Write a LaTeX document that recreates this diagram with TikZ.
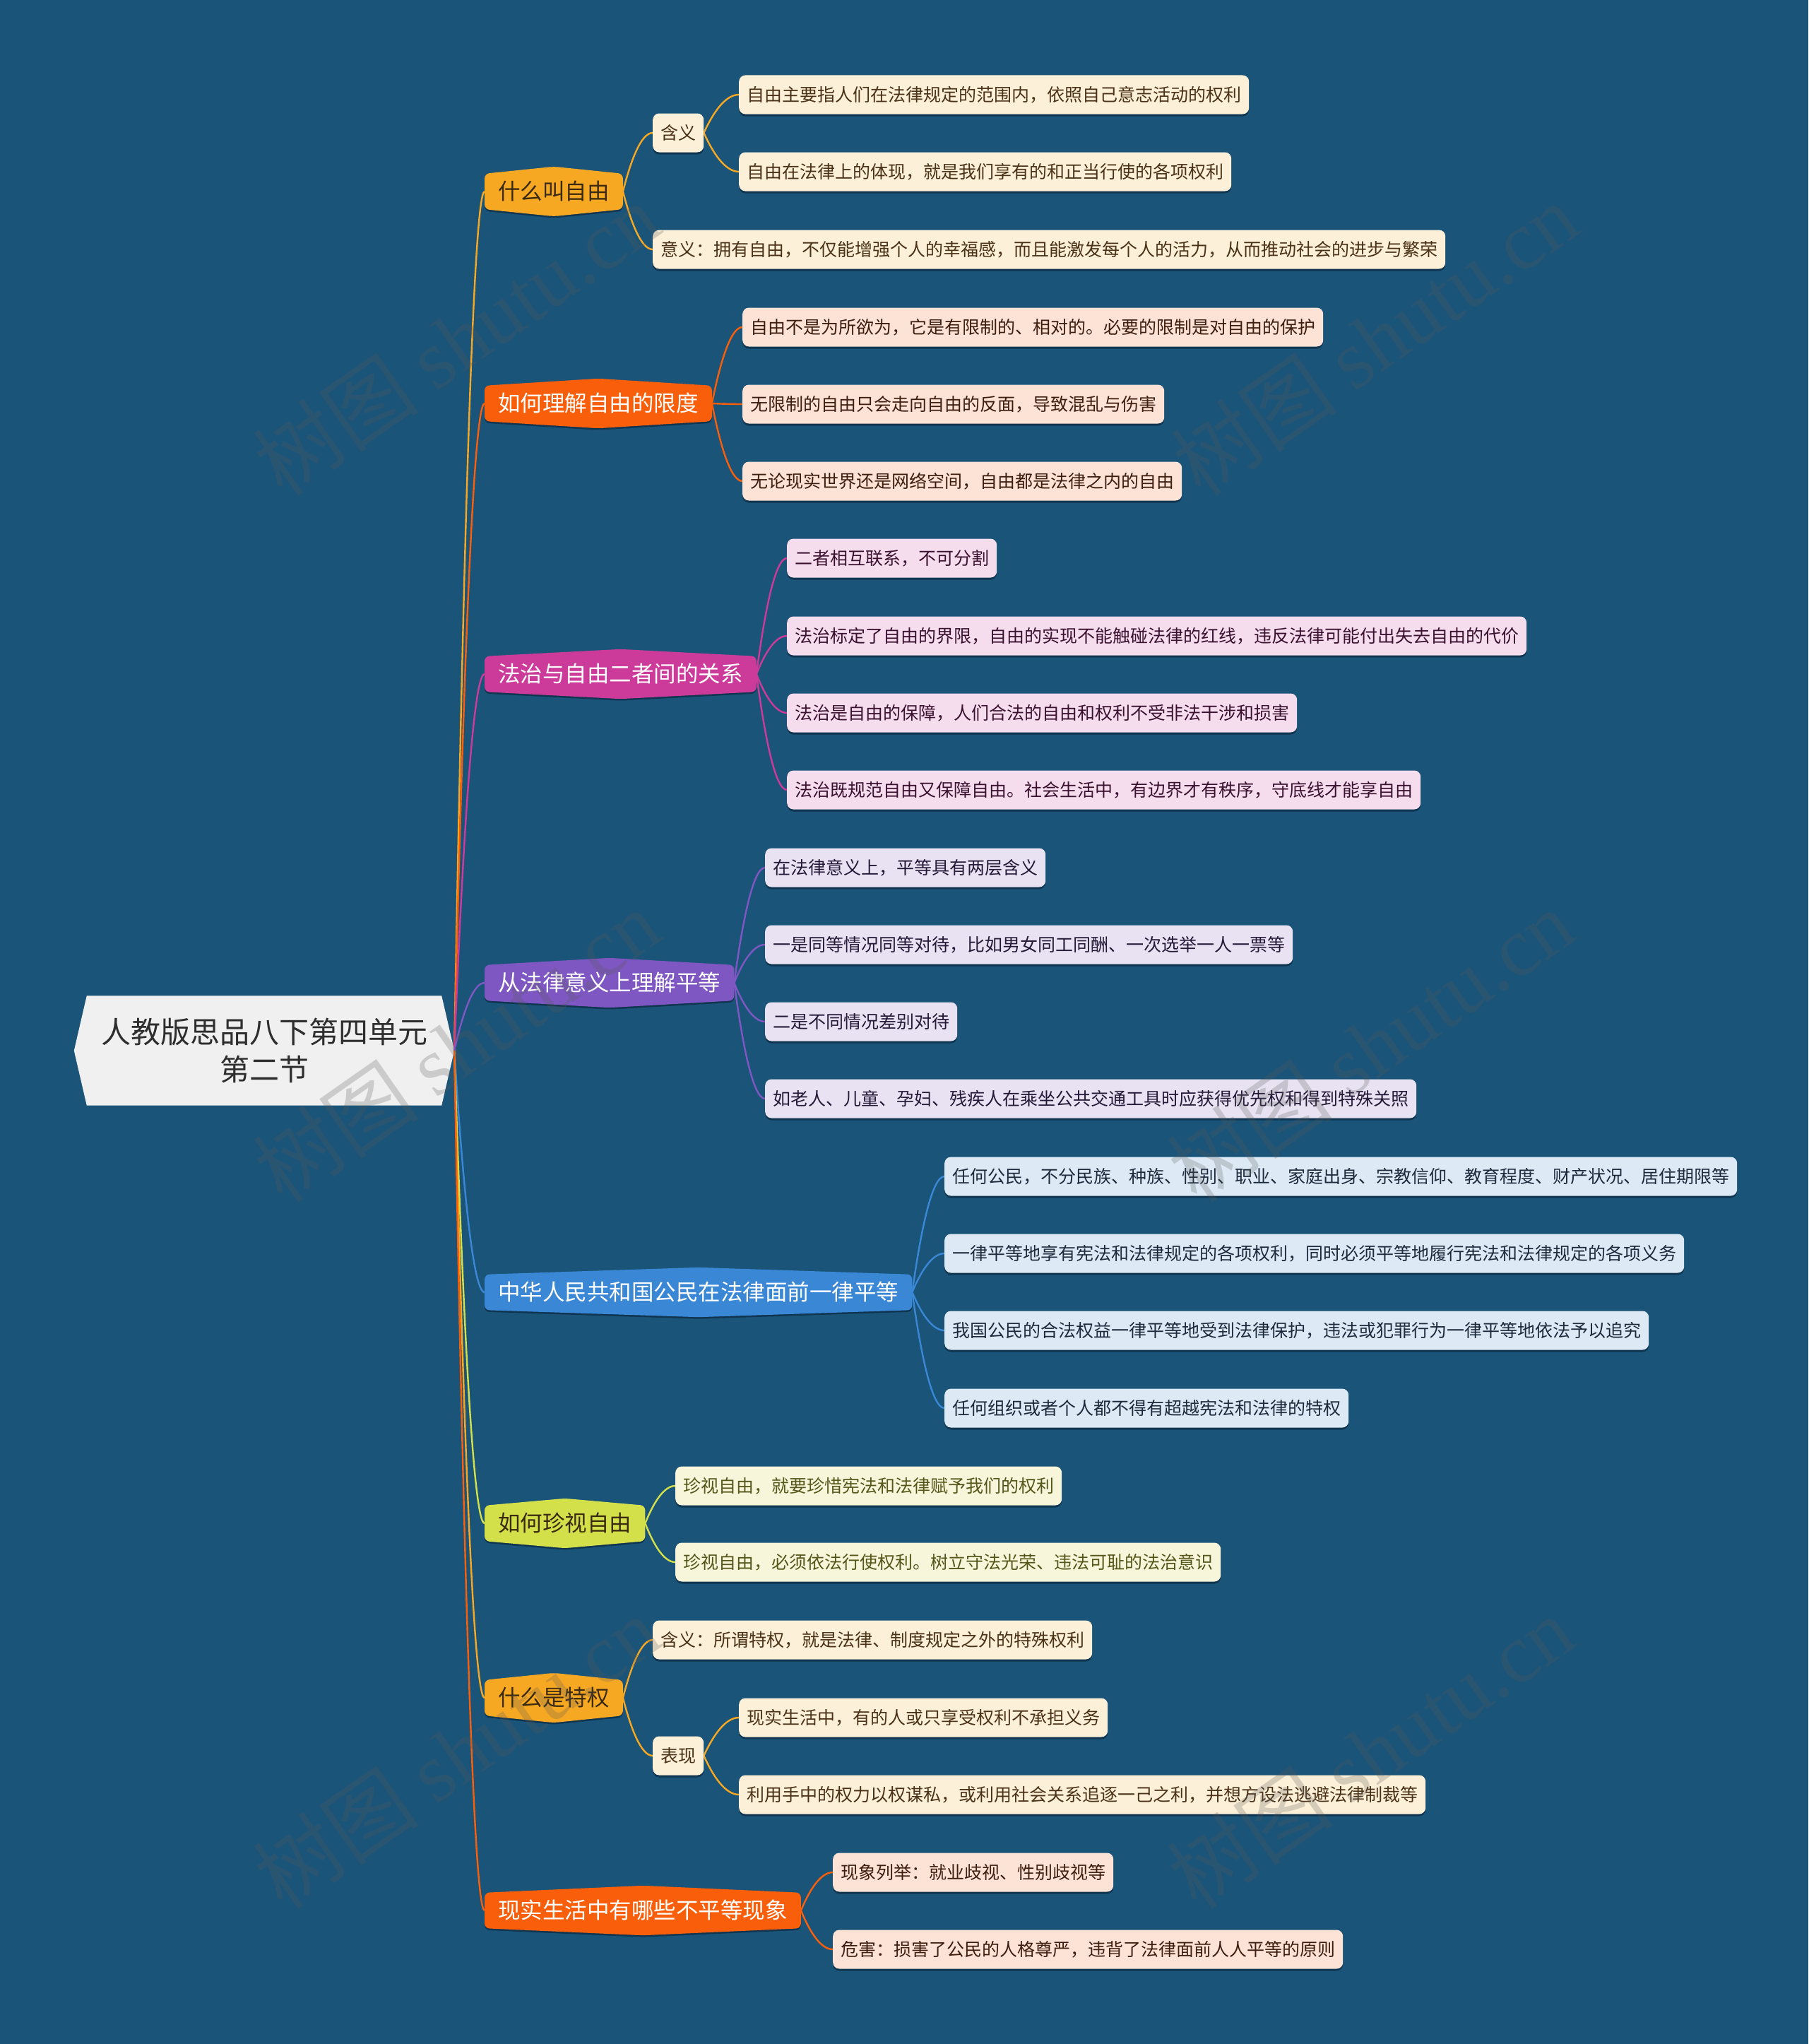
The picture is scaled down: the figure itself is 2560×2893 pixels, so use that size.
\documentclass[tikz,border=0pt]{standalone}
\usepackage{fontspec}
\setmainfont{Noto Sans CJK SC}
\newfontfamily\wmfont{Liberation Serif}
\usetikzlibrary{calc,backgrounds}

\definecolor{bgc}{HTML}{1B5479}
\definecolor{rootc}{HTML}{F0F0F0}
\definecolor{cOr}{HTML}{F7A823}
\definecolor{cRd}{HTML}{F95F0A}
\definecolor{cMg}{HTML}{CC3A9A}
\definecolor{cPu}{HTML}{7E57C2}
\definecolor{cBl}{HTML}{3A87D6}
\definecolor{cYg}{HTML}{D3E04A}
\definecolor{fOr}{HTML}{FDF0D8}
\definecolor{fRd}{HTML}{FDE3D6}
\definecolor{fMg}{HTML}{F6DDEE}
\definecolor{fPu}{HTML}{E8E2F2}
\definecolor{fBl}{HTML}{DDEAF6}
\definecolor{fYg}{HTML}{F8F6DA}
\definecolor{tOr}{HTML}{4A3218}
\definecolor{tRd}{HTML}{3E1E0E}
\definecolor{tMg}{HTML}{3A1230}
\definecolor{tPu}{HTML}{241A38}
\definecolor{tBl}{HTML}{1C2A3C}
\definecolor{tYg}{HTML}{55561A}
\definecolor{tDk}{HTML}{3A2A10}
\definecolor{shd}{HTML}{0F3550}

\newcommand{\hexfill}[2]{%
  \fill[shd, rounded corners=7pt, transform canvas={yshift=-2.5pt}] (#1.north west) -- ($(#1.north)+(0,-10)$) -- (#1.north east) -- (#1.south east) -- ($(#1.south)+(0,10)$) -- (#1.south west) -- cycle;
  \fill[#2, rounded corners=7pt] (#1.north west) -- ($(#1.north)+(0,-10)$) -- (#1.north east) -- (#1.south east) -- ($(#1.south)+(0,10)$) -- (#1.south west) -- cycle;}
\newcommand{\link}[3]{\draw[conn,#1] let \p1=(#2), \p2=(#3) in (\p1) .. controls ({\x1+0.25*(\x2-\x1)},{\y1+0.5*(\y2-\y1)}) and ({\x1+0.6*(\x2-\x1)},{\y2}) .. (\p2);}

\begin{document}
\begin{tikzpicture}[x=1pt,y=-1pt,
  conn/.style={line width=2.4pt},
  leaf/.style={rectangle, rounded corners=9pt, minimum height=55pt, inner xsep=11pt, inner ysep=0pt,
    font=\fontsize{25}{30}\selectfont, text height=22pt, text depth=3pt, anchor=west,
    preaction={fill=shd, transform canvas={yshift=-3pt}}},
  mainn/.style={rectangle, minimum height=50pt, inner xsep=19pt, inner ysep=0pt,
    font=\fontsize{31.5}{36}\selectfont, text height=27.7pt, text depth=3.8pt, anchor=west},
  rootn/.style={rectangle, minimum width=502pt, minimum height=155pt, inner sep=0pt, align=center,
    font=\fontsize{42}{53}\selectfont, text=black!82},
  wm/.style={font=\fontsize{118}{118}\selectfont, text=black!65, text opacity=0.24, rotate=35}
]
\begin{pgfonlayer}{background}
\fill[bgc] (0,0) rectangle (2560,2893);
\end{pgfonlayer}
\useasboundingbox (0,0) rectangle (2560,2893);

% root
\node[rootn] (root) at (374,1487) {人教版思品八下第四单元\\第二节};
\coordinate (rtip) at ($(root.east)+(18,0)$);

% main branches
\node[mainn, text=tDk] (m1) at (686,271) {什么叫自由};
\node[mainn, text=white] (m2) at (686,571) {如何理解自由的限度};
\node[mainn, text=white] (m3) at (686,954) {法治与自由二者间的关系};
\node[mainn, text=white] (m4) at (686,1391) {从法律意义上理解平等};
\node[mainn, text=white] (m5) at (686,1829) {中华人民共和国公民在法律面前一律平等};
\node[mainn, text=tDk] (m6) at (686,2156) {如何珍视自由};
\node[mainn, text=tDk] (m7) at (686,2403) {什么是特权};
\node[mainn, text=white] (m8) at (686,2704) {现实生活中有哪些不平等现象};

% branch 1
\node[leaf, fill=fOr, text=tOr] (h1) at (924,188) {含义};
\node[leaf, fill=fOr, text=tOr] (l11) at (1046,134) {自由主要指人们在法律规定的范围内，依照自己意志活动的权利};
\node[leaf, fill=fOr, text=tOr] (l12) at (1046,243) {自由在法律上的体现，就是我们享有的和正当行使的各项权利};
\node[leaf, fill=fOr, text=tOr] (l13) at (924,353) {意义：拥有自由，不仅能增强个人的幸福感，而且能激发每个人的活力，从而推动社会的进步与繁荣};
% branch 2
\node[leaf, fill=fRd, text=tRd] (l21) at (1051,463) {自由不是为所欲为，它是有限制的、相对的。必要的限制是对自由的保护};
\node[leaf, fill=fRd, text=tRd] (l22) at (1051,572) {无限制的自由只会走向自由的反面，导致混乱与伤害};
\node[leaf, fill=fRd, text=tRd] (l23) at (1051,681) {无论现实世界还是网络空间，自由都是法律之内的自由};
% branch 3
\node[leaf, fill=fMg, text=tMg] (l31) at (1114,790) {二者相互联系，不可分割};
\node[leaf, fill=fMg, text=tMg] (l32) at (1114,900) {法治标定了自由的界限，自由的实现不能触碰法律的红线，违反法律可能付出失去自由的代价};
\node[leaf, fill=fMg, text=tMg] (l33) at (1114,1009) {法治是自由的保障，人们合法的自由和权利不受非法干涉和损害};
\node[leaf, fill=fMg, text=tMg] (l34) at (1114,1118) {法治既规范自由又保障自由。社会生活中，有边界才有秩序，守底线才能享自由};
% branch 4
\node[leaf, fill=fPu, text=tPu] (l41) at (1083,1228) {在法律意义上，平等具有两层含义};
\node[leaf, fill=fPu, text=tPu] (l42) at (1083,1337) {一是同等情况同等对待，比如男女同工同酬、一次选举一人一票等};
\node[leaf, fill=fPu, text=tPu] (l43) at (1083,1446) {二是不同情况差别对待};
\node[leaf, fill=fPu, text=tPu] (l44) at (1083,1555) {如老人、儿童、孕妇、残疾人在乘坐公共交通工具时应获得优先权和得到特殊关照};
% branch 5
\node[leaf, fill=fBl, text=tBl] (l51) at (1337,1665) {任何公民，不分民族、种族、性别、职业、家庭出身、宗教信仰、教育程度、财产状况、居住期限等};
\node[leaf, fill=fBl, text=tBl] (l52) at (1337,1774) {一律平等地享有宪法和法律规定的各项权利，同时必须平等地履行宪法和法律规定的各项义务};
\node[leaf, fill=fBl, text=tBl] (l53) at (1337,1883) {我国公民的合法权益一律平等地受到法律保护，违法或犯罪行为一律平等地依法予以追究};
\node[leaf, fill=fBl, text=tBl] (l54) at (1337,1993) {任何组织或者个人都不得有超越宪法和法律的特权};
% branch 6
\node[leaf, fill=fYg, text=tYg] (l61) at (956,2103) {珍视自由，就要珍惜宪法和法律赋予我们的权利};
\node[leaf, fill=fYg, text=tYg] (l62) at (956,2211) {珍视自由，必须依法行使权利。树立守法光荣、违法可耻的法治意识};
% branch 7
\node[leaf, fill=fOr, text=tOr] (l71) at (924,2321) {含义：所谓特权，就是法律、制度规定之外的特殊权利};
\node[leaf, fill=fOr, text=tOr] (h7) at (924,2485) {表现};
\node[leaf, fill=fOr, text=tOr] (l72) at (1046,2431) {现实生活中，有的人或只享受权利不承担义务};
\node[leaf, fill=fOr, text=tOr] (l73) at (1046,2540) {利用手中的权力以权谋私，或利用社会关系追逐一己之利，并想方设法逃避法律制裁等};
% branch 8
\node[leaf, fill=fRd, text=tRd] (l81) at (1179,2650) {现象列举：就业歧视、性别歧视等};
\node[leaf, fill=fRd, text=tRd] (l82) at (1179,2759) {危害：损害了公民的人格尊严，违背了法律面前人人平等的原则};

\begin{pgfonlayer}{background}
\fill[rootc] (root.north west) -- (root.north east) -- (rtip) -- (root.south east) -- (root.south west) -- ($(root.west)+(-18,0)$) -- cycle;
\hexfill{m1}{cOr}
\hexfill{m2}{cRd}
\hexfill{m3}{cMg}
\hexfill{m4}{cPu}
\hexfill{m5}{cBl}
\hexfill{m6}{cYg}
\hexfill{m7}{cOr}
\hexfill{m8}{cRd}
% root links
\link{cOr}{rtip}{m1.west}
\link{cRd}{rtip}{m2.west}
\link{cMg}{rtip}{m3.west}
\link{cPu}{rtip}{m4.west}
\link{cBl}{rtip}{m5.west}
\link{cYg}{rtip}{m6.west}
\link{cOr}{rtip}{m7.west}
\link{cRd}{rtip}{m8.west}
% branch links
\link{cOr}{m1.east}{h1.west}
\link{cOr}{m1.east}{l13.west}
\link{cOr}{h1.east}{l11.west}
\link{cOr}{h1.east}{l12.west}
\link{cRd}{m2.east}{l21.west}
\link{cRd}{m2.east}{l22.west}
\link{cRd}{m2.east}{l23.west}
\link{cMg}{m3.east}{l31.west}
\link{cMg}{m3.east}{l32.west}
\link{cMg}{m3.east}{l33.west}
\link{cMg}{m3.east}{l34.west}
\link{cPu}{m4.east}{l41.west}
\link{cPu}{m4.east}{l42.west}
\link{cPu}{m4.east}{l43.west}
\link{cPu}{m4.east}{l44.west}
\link{cBl}{m5.east}{l51.west}
\link{cBl}{m5.east}{l52.west}
\link{cBl}{m5.east}{l53.west}
\link{cBl}{m5.east}{l54.west}
\link{cYg}{m6.east}{l61.west}
\link{cYg}{m6.east}{l62.west}
\link{cOr}{m7.east}{l71.west}
\link{cOr}{m7.east}{h7.west}
\link{cOr}{h7.east}{l72.west}
\link{cOr}{h7.east}{l73.west}
\link{cRd}{m8.east}{l81.west}
\link{cRd}{m8.east}{l82.west}
\end{pgfonlayer}

% watermarks
\node[wm] (wm1) at (646,480) {树图 {\wmfont shutu.cn}};
\node[wm] (wm2) at (1946,480) {树图 {\wmfont shutu.cn}};
\node[wm] (wm3) at (646,1480) {树图 {\wmfont shutu.cn}};
\node[wm] (wm4) at (1940,1480) {树图 {\wmfont shutu.cn}};
\node[wm] (wm5) at (646,2480) {树图 {\wmfont shutu.cn}};
\node[wm] (wm6) at (1940,2480) {树图 {\wmfont shutu.cn}};
\end{tikzpicture}
\end{document}
